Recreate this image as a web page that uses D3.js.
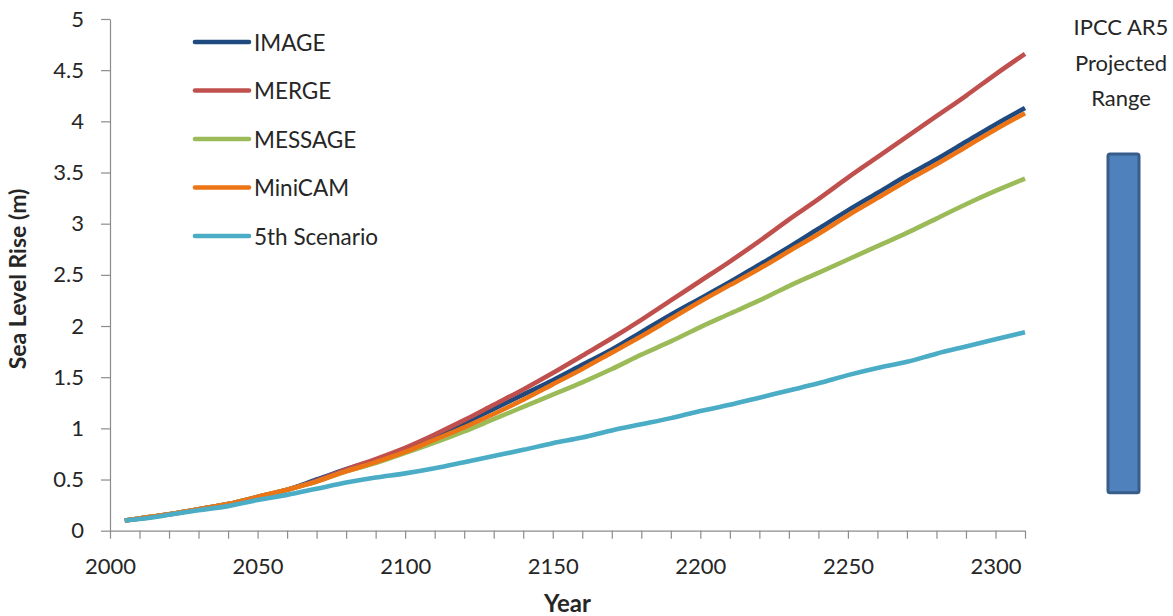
<!DOCTYPE html>
<html>
<head>
<meta charset="utf-8">
<script src="https://cdn.jsdelivr.net/npm/d3@7"></script>
<style>
  html, body { margin: 0; padding: 0; background: #fff; }
  svg { display: block; font-family: Lato, "Open Sans", sans-serif; }
</style>
</head>
<body>
<svg id="chart" width="1173" height="616"></svg>
<script>
// Projected sea level rise by model, metres
const years = [2005, 2010, 2020, 2030, 2040, 2050, 2060, 2070, 2080, 2090, 2100,
  2110, 2120, 2130, 2140, 2150, 2160, 2170, 2180, 2190, 2200,
  2210, 2220, 2230, 2240, 2250, 2260, 2270, 2280, 2290, 2300, 2310];

const imageValues   = [0.10, 0.12, 0.16, 0.21, 0.26, 0.33, 0.40, 0.50, 0.60, 0.69, 0.80,
  0.92, 1.05, 1.19, 1.33, 1.47, 1.62, 1.77, 1.94, 2.11, 2.27,
  2.43, 2.60, 2.77, 2.95, 3.13, 3.30, 3.47, 3.63, 3.80, 3.97, 4.13];
const mergeValues   = [0.10, 0.12, 0.16, 0.21, 0.26, 0.33, 0.40, 0.49, 0.60, 0.70, 0.81,
  0.94, 1.08, 1.23, 1.38, 1.54, 1.71, 1.88, 2.06, 2.25, 2.44,
  2.63, 2.83, 3.04, 3.24, 3.45, 3.65, 3.85, 4.05, 4.25, 4.46, 4.66];
const messageValues = [0.10, 0.12, 0.16, 0.21, 0.26, 0.33, 0.40, 0.48, 0.58, 0.66, 0.76,
  0.86, 0.97, 1.09, 1.21, 1.33, 1.45, 1.58, 1.72, 1.85, 1.99,
  2.12, 2.25, 2.39, 2.52, 2.65, 2.78, 2.91, 3.05, 3.19, 3.32, 3.44];
const minicamValues = [0.10, 0.12, 0.16, 0.21, 0.26, 0.33, 0.40, 0.48, 0.58, 0.67, 0.77,
  0.89, 1.01, 1.14, 1.28, 1.43, 1.58, 1.74, 1.90, 2.07, 2.24,
  2.40, 2.56, 2.73, 2.90, 3.08, 3.25, 3.42, 3.58, 3.75, 3.92, 4.08];
const fifthValues   = [0.10, 0.115, 0.155, 0.20, 0.24, 0.30, 0.35, 0.41, 0.47, 0.52, 0.56,
  0.61, 0.67, 0.73, 0.79, 0.855, 0.91, 0.98, 1.04, 1.10, 1.17,
  1.23, 1.30, 1.37, 1.44, 1.52, 1.59, 1.65, 1.73, 1.80, 1.87, 1.94];

const seriesNames  = ["IMAGE", "MERGE", "MESSAGE", "MiniCAM", "5th Scenario"];
const seriesColors = ["#1F4A7F", "#C0504D", "#9BBB59", "#EC7414", "#4BACC6"];

const xTicks = d3.range(2000, 2311, 10);
const xTickLabels = [2000, 2050, 2100, 2150, 2200, 2250, 2300];
const yTicks = d3.range(0, 5.01, 0.5);

// IPCC AR5 projected range for 2300 (low, high), metres
const ipccRange = [0.37, 3.68];
const ipccLabel = ["IPCC AR5", "Projected", "Range"];

const series = [imageValues, mergeValues, messageValues, minicamValues, fifthValues]
  .map((vals, i) => ({
    name: seriesNames[i],
    color: seriesColors[i],
    points: years.map((yr, j) => ({ year: yr, value: vals[j] }))
  }));

const svg = d3.select("#chart");
const textColor = "#262626";
const axisColor = "#8c8c8c";

const x = d3.scaleLinear().domain([2000, 2310]).range([110, 1025]);
const y = d3.scaleLinear().domain([0, 5]).range([530.7, 19]);

// Y axis
const yAxis = svg.append("g")
  .attr("transform", `translate(${x(2000)},0)`)
  .call(d3.axisLeft(y).tickValues(yTicks).tickSize(9).tickSizeOuter(0).tickPadding(17)
    .tickFormat(d3.format("~g")));
yAxis.select(".domain").attr("stroke", axisColor).attr("stroke-width", 1.2);
yAxis.selectAll(".tick line").attr("stroke", axisColor).attr("stroke-width", 1.2);
yAxis.selectAll(".tick text")
  .attr("fill", textColor).attr("font-size", 22).attr("font-family", "Lato, sans-serif");

// X axis
const xAxis = svg.append("g")
  .attr("transform", `translate(0,${y(0)})`)
  .call(d3.axisBottom(x).tickValues(xTicks).tickSize(8).tickSizeOuter(0)
    .tickFormat(d => xTickLabels.includes(d) ? String(d) : ""));
xAxis.select(".domain").attr("stroke", axisColor).attr("stroke-width", 1.2);
xAxis.selectAll(".tick line").attr("stroke", axisColor).attr("stroke-width", 1.2);
xAxis.selectAll(".tick text")
  .attr("y", 43).attr("dy", 0)
  .attr("fill", textColor).attr("font-size", 22).attr("font-family", "Lato, sans-serif");

// Axis titles
svg.append("text")
  .attr("transform", `translate(26,279) rotate(-90)`)
  .attr("text-anchor", "middle")
  .attr("font-weight", "bold").attr("font-size", 23)
  .attr("fill", textColor)
  .text("Sea Level Rise (m)");

svg.append("text")
  .attr("x", (x(2000) + x(2310)) / 2).attr("y", 612)
  .attr("text-anchor", "middle")
  .attr("font-weight", "bold").attr("font-size", 24)
  .attr("fill", textColor)
  .text("Year");

// Series lines
const line = d3.line()
  .x(d => x(d.year))
  .y(d => y(d.value))
  .curve(d3.curveMonotoneX);

svg.append("g").selectAll("path")
  .data(series)
  .join("path")
  .attr("d", d => line(d.points))
  .attr("fill", "none")
  .attr("stroke", d => d.color)
  .attr("stroke-width", 4.6)
  .attr("stroke-linejoin", "round")
  .attr("stroke-linecap", "butt");

// Legend
const legend = svg.append("g").selectAll("g")
  .data(series)
  .join("g")
  .attr("transform", (d, i) => `translate(195,${42 + i * 48.5})`);
legend.append("line")
  .attr("x1", 0).attr("x2", 54).attr("y1", 0).attr("y2", 0)
  .attr("stroke", d => d.color).attr("stroke-width", 4.6).attr("stroke-linecap", "round");
legend.append("text")
  .attr("x", 59).attr("y", 8.5)
  .attr("font-size", 22.5).attr("fill", textColor)
  .text(d => d.name);

// IPCC AR5 projected range bar
const barX = 1108, barW = 31;
svg.append("rect")
  .attr("x", barX)
  .attr("y", y(ipccRange[1]))
  .attr("width", barW)
  .attr("height", y(ipccRange[0]) - y(ipccRange[1]))
  .attr("rx", 2).attr("ry", 2)
  .attr("fill", "#4F81BD")
  .attr("stroke", "#385D8A")
  .attr("stroke-width", 3);

svg.append("g").selectAll("text")
  .data(ipccLabel)
  .join("text")
  .attr("x", 1121)
  .attr("y", (d, i) => 35 + i * 35.5)
  .attr("text-anchor", "middle")
  .attr("font-size", 22)
  .attr("fill", textColor)
  .text(d => d);
</script>
</body>
</html>
